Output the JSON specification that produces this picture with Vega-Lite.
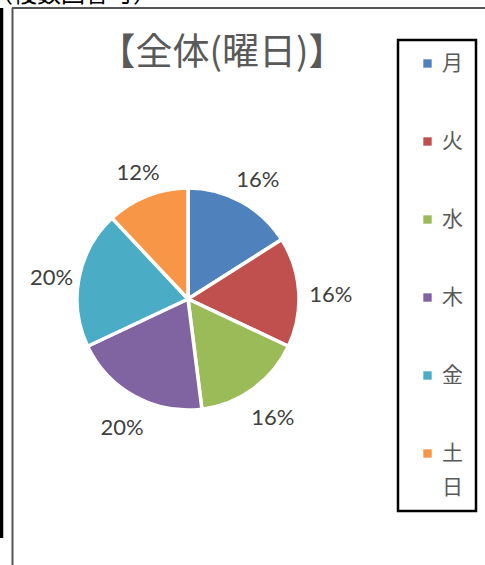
{
  "$schema": "https://vega.github.io/schema/vega-lite/v6.json",
  "width": 485,
  "height": 565,
  "padding": 0,
  "autosize": {"type": "none"},
  "background": "white",
  "config": {
    "view": {"stroke": null},
    "style": {"guide-label": {"lineHeight": 34}},
    "legend": {
      "orient": "none",
      "legendX": 398,
      "legendY": 40,
      "symbolType": "square",
      "symbolSize": 70,
      "symbolStrokeWidth": 0,
      "labelFont": "Noto Sans CJK JP",
      "labelFontSize": 21,
      "labelColor": "#595959",
      "padding": 13,
      "rowPadding": 56,
      "symbolOffset": 6,
      "labelOffset": 4,
      "strokeColor": "black",
      "strokeWidth": 2.5
    }
  },
  "data": {
    "values": [
      {"day": "月", "pct": 0.16, "order": 1},
      {"day": "火", "pct": 0.16, "order": 2},
      {"day": "水", "pct": 0.16, "order": 3},
      {"day": "木", "pct": 0.20, "order": 4},
      {"day": "金", "pct": 0.20, "order": 5},
      {"day": "土日", "pct": 0.12, "order": 6}
    ]
  },
  "layer": [
    {
      "data": {"values": [{"t": "（複数回答可）"}]},
      "mark": {"type": "text", "font": "Noto Sans CJK JP", "fontSize": 24, "align": "left", "baseline": "alphabetic", "color": "black"},
      "encoding": {"text": {"field": "t"}, "x": {"value": -11}, "y": {"value": 2}}
    },
    {
      "data": {"values": [{}]},
      "mark": {"type": "rule", "color": "black", "strokeWidth": 3.5},
      "encoding": {"x": {"value": 1.5}, "y": {"value": 8}, "x2": {"value": 1.5}, "y2": {"value": 538}}
    },
    {
      "data": {"values": [{}]},
      "mark": {"type": "rule", "color": "#555555", "strokeWidth": 2},
      "encoding": {"x": {"value": 12}, "y": {"value": 8}, "x2": {"value": 485}, "y2": {"value": 8}}
    },
    {
      "data": {"values": [{}]},
      "mark": {"type": "rule", "color": "#555555", "strokeWidth": 2},
      "encoding": {"x": {"value": 12.5}, "y": {"value": 8}, "x2": {"value": 12.5}, "y2": {"value": 565}}
    },
    {
      "data": {"values": [{"t": "【全体(曜日)】"}]},
      "mark": {"type": "text", "font": "Noto Sans CJK JP", "fontSize": 37, "align": "center", "baseline": "middle", "color": "#595959"},
      "encoding": {"text": {"field": "t"}, "x": {"value": 222}, "y": {"value": 54}}
    },
    {
      "mark": {"type": "arc", "outerRadius": 111, "stroke": "white", "strokeWidth": 3.5},
      "encoding": {
        "theta": {"field": "pct", "type": "quantitative", "stack": true},
        "order": {"field": "order", "type": "quantitative"},
        "x": {"value": 188},
        "y": {"value": 299},
        "color": {
          "field": "day",
          "type": "nominal",
          "sort": ["月", "火", "水", "木", "金", "土日"],
          "scale": {
            "domain": ["月", "火", "水", "木", "金", "土日"],
            "range": ["#4F81BD", "#C0504D", "#9BBB59", "#8064A2", "#4BACC6", "#F79646"]
          },
          "legend": {
            "title": null,
            "labelExpr": "datum.label == '土日' ? ['土','日'] : datum.label",
            "encode": {
              "legend": {"update": {"strokeWidth": {"value": 2.5}}},
              "labels": {"update": {"lineHeight": {"value": 34}}}
            }
          }
        }
      }
    },
    {
      "mark": {"type": "text", "radius": 141, "dx": 2, "dy": 5, "font": "Lato", "fontSize": 22, "color": "#404040", "align": "center", "baseline": "middle"},
      "encoding": {
        "theta": {"field": "pct", "type": "quantitative", "stack": true},
        "order": {"field": "order", "type": "quantitative"},
        "x": {"value": 188},
        "y": {"value": 299},
        "text": {"field": "pct", "type": "quantitative", "format": ".0%"}
      }
    }
  ]
}
